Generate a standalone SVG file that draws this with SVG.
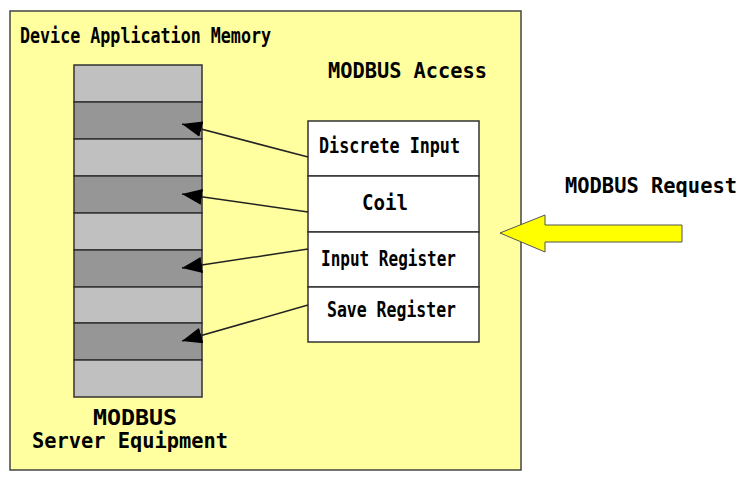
<svg xmlns="http://www.w3.org/2000/svg" width="750" height="480" viewBox="0 0 750 480">
<style>
text{font-family:"DejaVu Sans Mono","Liberation Mono",monospace;font-size:21px;font-weight:bold;fill:#000}
.lt{fill:#c0c0c0;stroke:#333;stroke-width:1.5}
.dk{fill:#969696;stroke:#333;stroke-width:1.5}
.cell{fill:#fff;stroke:#333;stroke-width:1.5}
.conn{stroke:#222;stroke-width:1.5;fill:none;marker-end:url(#ah)}
</style>
<defs>
<marker id="ah" viewBox="0 0 20 16" refX="20" refY="8" markerWidth="20" markerHeight="16" markerUnits="userSpaceOnUse" orient="auto">
<path d="M0,0 L20,8 L0,16 Z" fill="#000"/>
</marker>
</defs>
<rect x="0" y="0" width="750" height="480" fill="#fff"/>
<g id="device-memory">
<rect x="10" y="11" width="511" height="459" fill="#ffff9f" stroke="#444" stroke-width="1.5"/>
<text x="20" y="43" textLength="251" lengthAdjust="spacingAndGlyphs">Device Application Memory</text>
</g>
<g id="memory-column">
<rect class="lt" x="74" y="65" width="128" height="37"/>
<rect class="dk" x="74" y="102" width="128" height="37"/>
<rect class="lt" x="74" y="139" width="128" height="37"/>
<rect class="dk" x="74" y="176" width="128" height="37"/>
<rect class="lt" x="74" y="213" width="128" height="37"/>
<rect class="dk" x="74" y="250" width="128" height="37"/>
<rect class="lt" x="74" y="287" width="128" height="36"/>
<rect class="dk" x="74" y="323" width="128" height="37"/>
<rect class="lt" x="74" y="360" width="128" height="37"/>
</g>
<g id="server-label">
<text x="93" y="425" textLength="84" lengthAdjust="spacingAndGlyphs">MODBUS</text>
<text x="32" y="448" textLength="196" lengthAdjust="spacingAndGlyphs">Server Equipment</text>
</g>
<g id="modbus-access">
<text x="328" y="78" textLength="159" lengthAdjust="spacingAndGlyphs">MODBUS Access</text>
<g id="discrete-input">
<rect class="cell" x="308" y="121" width="171" height="55"/>
<text x="319" y="153" textLength="141" lengthAdjust="spacingAndGlyphs">Discrete Input</text>
</g>
<g id="coil">
<rect class="cell" x="308" y="176" width="171" height="56"/>
<text x="362" y="210" textLength="46" lengthAdjust="spacingAndGlyphs">Coil</text>
</g>
<g id="input-register">
<rect class="cell" x="308" y="232" width="171" height="55"/>
<text x="321" y="266" textLength="135" lengthAdjust="spacingAndGlyphs">Input Register</text>
</g>
<g id="save-register">
<rect class="cell" x="308" y="287" width="171" height="55"/>
<text x="327" y="317" textLength="129" lengthAdjust="spacingAndGlyphs">Save Register</text>
</g>
</g>
<g id="modbus-request">
<polygon points="500,233 545,215 545,225 682,225 682,242 545,242 545,252" fill="#ffff00" stroke="#555" stroke-width="1"/>
<text x="565" y="193" textLength="172" lengthAdjust="spacingAndGlyphs">MODBUS Request</text>
</g>
<g id="connectors">
<line class="conn" x1="308" y1="157" x2="182" y2="124"/>
<line class="conn" x1="308" y1="212" x2="182" y2="194"/>
<line class="conn" x1="308" y1="249" x2="182" y2="268"/>
<line class="conn" x1="308" y1="305" x2="182" y2="341"/>
</g>
</svg>
